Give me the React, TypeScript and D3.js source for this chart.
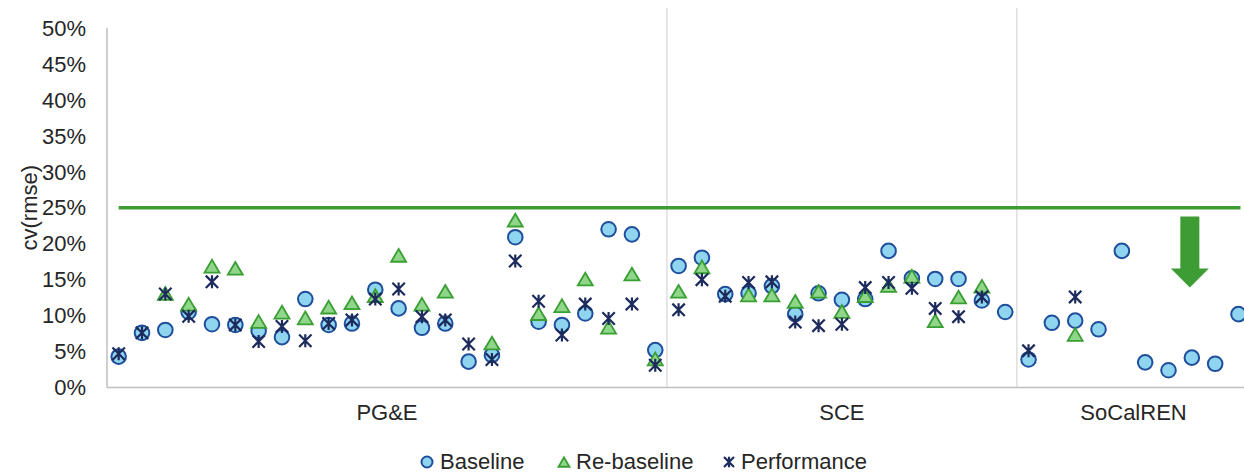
import React from "react";
import * as d3 from "d3";

const groups = ["PG&E", "SCE", "SoCalREN"];

const pgeBaseline = [4.3, 7.6, 8.0, 10.5, 8.8, 8.7, 7.9, 7.0, 12.3, 8.7, 8.9, 13.6, 11.0, 8.3, 8.9, 3.6, 4.5, 20.9, 9.15, 8.7, 10.3, 22.0, 21.3, 5.2];
const pgeRebaseline = [null, null, 12.9, 11.4, 16.7, 16.4, 9.0, 10.3, 9.5, 11.0, 11.6, 12.6, 18.2, 11.4, 13.2, null, 6.0, 23.1, 10.1, 11.2, 14.9, 8.2, 15.6, 3.8];
const pgePerformance = [4.7, 7.6, 13.0, 9.9, 14.7, 8.7, 6.4, 8.5, 6.5, 8.9, 9.4, 12.3, 13.7, 9.85, 9.4, 6.05, 3.9, 17.6, 12.0, 7.3, 11.6, 9.6, 11.6, 3.1];

const sceBaseline = [16.9, 18.05, 13.0, 13.1, 14.1, 10.2, 13.1, 12.2, 12.3, 19.0, 15.2, 15.1, 15.1, 12.1, 10.5];
const sceRebaseline = [13.2, 16.6, null, 12.7, 12.7, 11.8, 13.2, 10.4, 12.6, 14.0, 15.3, 9.1, 12.4, 13.9, null];
const scePerformance = [10.8, 15.0, 12.7, 14.6, 14.7, 9.1, 8.6, 8.8, 13.9, 14.6, 13.8, 11.0, 9.85, 12.6, null];

const scrBaseline = [3.9, 9.0, 9.3, 8.1, 19.0, 3.5, 2.4, 4.15, 3.3, 10.2];
const scrRebaseline = [null, null, 7.2, null, null, null, null, null, null, null];
const scrPerformance = [5.1, null, 12.6, null, null, null, null, null, null, null];

const yTicks = [0, 5, 10, 15, 20, 25, 30, 35, 40, 45, 50];
const threshold = 25;
const arrowFrom = 23.8;
const arrowTo = 13.9;

const baselineAll = [pgeBaseline, sceBaseline, scrBaseline];
const rebaselineAll = [pgeRebaseline, sceRebaseline, scrRebaseline];
const performanceAll = [pgePerformance, scePerformance, scrPerformance];

type Pt = { id: string; group: number; idx: number; b: number | null; r: number | null; p: number | null };
const points: Pt[] = [];
groups.forEach((g, gi) => {
  baselineAll[gi].forEach((v, i) => {
    points.push({ id: `${gi}-${i}`, group: gi, idx: i, b: v, r: rebaselineAll[gi][i], p: performanceAll[gi][i] });
  });
});

const W = 1244;
const H = 475;
const left = 107;
const top = 28;
const bottom = 387.5;
const step = 23.33;
const right = left + points.length * step;

const FONT = "'Liberation Sans', Arial, sans-serif";
const TXT = "#262626";

const CIRC_FILL = "#8fd5f0";
const CIRC_STROKE = "#1f4e9c";
const TRI_FILL = "#8fd68a";
const TRI_STROKE = "#3a9f33";
const STAR = "#1c2a5c";
const GREEN = "#3e9c35";

function Circle({ x, y, r = 7.3 }: { x: number; y: number; r?: number }) {
  return <circle cx={x} cy={y} r={r} fill={CIRC_FILL} stroke={CIRC_STROKE} strokeWidth={2} />;
}
function Tri({ x, y, s = 7.5 }: { x: number; y: number; s?: number }) {
  const h = s * 1.7;
  const p = `M${x},${y - h * 0.6} L${x + s},${y + h * 0.4} L${x - s},${y + h * 0.4} Z`;
  return <path d={p} fill={TRI_FILL} stroke={TRI_STROKE} strokeWidth={1.8} strokeLinejoin="miter" />;
}
function Star({ x, y, s = 6.2 }: { x: number; y: number; s?: number }) {
  const d = `M${x - s},${y - s} L${x + s},${y + s} M${x - s},${y + s} L${x + s},${y - s} M${x},${y - s * 1.05} L${x},${y + s * 1.05}`;
  return <path d={d} stroke={STAR} strokeWidth={2.2} fill="none" />;
}

export default function App() {
  const x = d3.scaleBand<string>().domain(points.map((d) => d.id)).range([left, right]).padding(0);
  const y = d3.scaleLinear().domain([0, 50]).range([bottom, top]);
  const cx = (d: Pt) => (x(d.id) as number) + x.bandwidth() / 2;

  const groupBounds = groups.map((g, gi) => {
    const ps = points.filter((d) => d.group === gi);
    const x0 = x(ps[0].id) as number;
    const x1 = (x(ps[ps.length - 1].id) as number) + x.bandwidth();
    return { g, x0, x1, ps };
  });

  const lineX0 = cx(points[0]);
  const lineX1 = cx(points[points.length - 1]) + 2;

  const arrowPt = groupBounds[2].ps[7];
  const ax = cx(arrowPt) - 2;
  const aTop = y(arrowFrom);
  const aTip = y(arrowTo);
  const headTop = aTip - 19;
  const shaftHalf = 9.5;
  const headHalf = 19;
  const arrowPath = `M${ax - shaftHalf},${aTop} L${ax + shaftHalf},${aTop} L${ax + shaftHalf},${headTop} L${ax + headHalf},${headTop} L${ax},${aTip} L${ax - headHalf},${headTop} L${ax - shaftHalf},${headTop} Z`;

  return (
    <div style={{ position: "absolute", left: 0, top: 0, width: W, height: H, overflow: "hidden", background: "#fff" }}>
      <svg width={W} height={H} style={{ display: "block" }} fontFamily={FONT}>
        <rect width={W} height={H} fill="#fff" />
        {groupBounds.slice(1).map((gb) => (
          <line key={gb.g} x1={gb.x0} x2={gb.x0} y1={8} y2={bottom} stroke="#d9d9d9" strokeWidth={1.3} />
        ))}
        <line x1={left} x2={left} y1={top} y2={bottom} stroke="#bfbfbf" strokeWidth={1.5} />
        <line x1={left} x2={right} y1={bottom} y2={bottom} stroke="#bfbfbf" strokeWidth={1.5} />
        {yTicks.map((t) => (
          <text key={t} x={86} y={y(t)} dy="0.35em" textAnchor="end" fontSize={22} fill={TXT}>
            {t}%
          </text>
        ))}
        <text transform={`translate(29,${(top + bottom) / 2}) rotate(-90)`} textAnchor="middle" dy="0.35em" fontSize={22} fill={TXT}>
          cv(rmse)
        </text>
        {groupBounds.map((gb) => (
          <text key={gb.g} x={(gb.x0 + gb.x1) / 2} y={412} dy="0.35em" textAnchor="middle" fontSize={22} fill={TXT}>
            {gb.g}
          </text>
        ))}
        <line x1={lineX0} x2={lineX1} y1={y(threshold)} y2={y(threshold)} stroke={GREEN} strokeWidth={3.5} />
        <path d={arrowPath} fill={GREEN} />
        {points.map((d) => (d.b != null ? <Circle key={"b" + d.id} x={cx(d)} y={y(d.b)} /> : null))}
        {points.map((d) => (d.r != null ? <Tri key={"r" + d.id} x={cx(d)} y={y(d.r)} /> : null))}
        {points.map((d) => (d.p != null ? <Star key={"p" + d.id} x={cx(d)} y={y(d.p)} /> : null))}
        <g>
          <Circle x={427} y={462} r={5.5} />
          <text x={440} y={461} dy="0.35em" fontSize={22} fill={TXT}>Baseline</text>
          <Tri x={564} y={463} s={5.5} />
          <text x={576} y={461} dy="0.35em" fontSize={22} fill={TXT}>Re-baseline</text>
          <Star x={729} y={462} s={5} />
          <text x={741} y={461} dy="0.35em" fontSize={22} fill={TXT}>Performance</text>
        </g>
      </svg>
    </div>
  );
}
